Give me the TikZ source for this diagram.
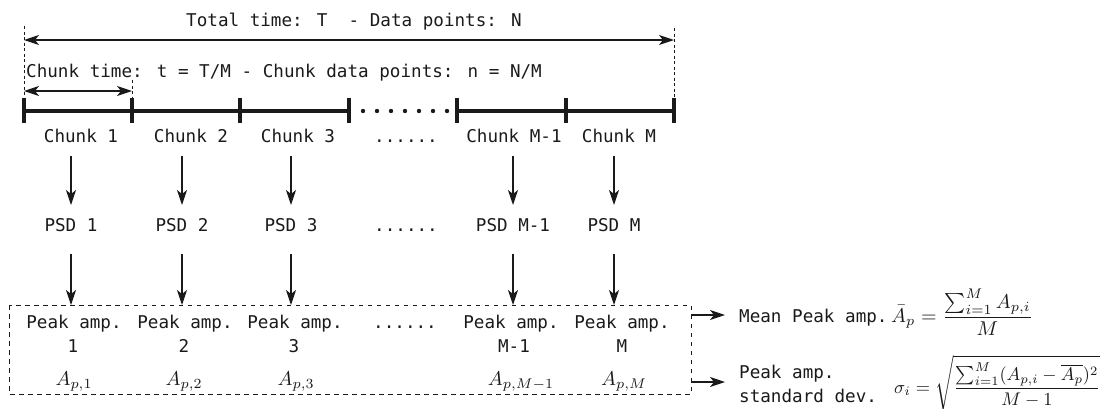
\documentclass[tikz,border=0pt]{standalone}
\usepackage{fontspec}
\newfontfamily\monof{DejaVu Sans Mono}
\usetikzlibrary{arrows.meta}
\definecolor{ink}{HTML}{1A1A1A}
\newcommand{\mymathscale}[1]{\scalebox{2.0}{#1}}
\newcommand{\mysigscale}[1]{\scalebox{1.83}{#1}}
\begin{document}
\begin{tikzpicture}[x=1pt,y=-1pt,
  lbl/.style={font=\monof\fontsize{17.6}{24}\selectfont, inner sep=0pt, anchor=base, text=ink},
  mth/.style={font=\fontsize{10}{12}\selectfont, inner sep=0pt, anchor=base, text=ink},
  tl/.style={draw=ink, line width=3.2pt},
  tickst/.style={draw=ink, line width=3.6pt},
  vdash/.style={draw=ink, line width=0.8pt, dash pattern=on 3pt off 2.5pt},
  arr/.style={draw=ink, line width=1.2pt, -{Stealth[length=15pt,width=10pt,inset=4pt]}},
  dbl/.style={draw=ink, line width=1.2pt, {Stealth[length=15pt,width=10pt,inset=4pt]}-{Stealth[length=15pt,width=10pt,inset=4pt]}},
  boxst/.style={draw=ink, line width=0.9pt, dash pattern=on 4.5pt off 4.5pt},
]
\useasboundingbox (0,0) rectangle (1106,408);

% timeline coordinates
\coordinate (t0) at (24,111);
\coordinate (t1) at (132,111);
\coordinate (t2) at (240,111);
\coordinate (t3) at (349,111);
\coordinate (t4) at (457,111);
\coordinate (t5) at (566,111);
\coordinate (t6) at (674,111);
\draw[tl] (t0) -- (t1) -- (t2) -- (t3);
\draw[tl] (t4) -- (t5) -- (t6);
\foreach \i in {0,...,6} {
  \draw[tickst] ([yshift=13pt]t\i) -- ([yshift=-12pt]t\i);
}
\foreach \x in {363,377,391,405,419,433,447} {
  \fill[ink] (\x,111) circle (2.2pt);
}

% dashed guides
\coordinate (L) at (24,26);
\coordinate (R) at (674,28);
\coordinate (S) at (132,80);
\draw[vdash] (L) -- ([yshift=13pt]t0);
\draw[vdash] (R) -- ([yshift=13pt]t6);
\draw[vdash] (S) -- ([yshift=13pt]t1);

% total and chunk arrows
\coordinate (ta) at (24,40);
\coordinate (tb) at (674,40);
\draw[dbl] (ta) -- (tb);
\coordinate (sa) at (24,91);
\coordinate (sb) at (132,91);
\draw[dbl] (sa) -- (sb);

\node[lbl] (tt) at (354,26) {Total time: T~~- Data points: N};
\node[lbl, anchor=base west] (ct) at (26,77) {Chunk time: t = T/M - Chunk data points: n = N/M};

% chunk labels
\node[lbl] (c1) at (81,142) {Chunk 1};
\node[lbl] (c2) at (191,142) {Chunk 2};
\node[lbl] (c3) at (298,142) {Chunk 3};
\node[lbl] (cd) at (406,142) {......};
\node[lbl] (c4) at (514,142) {Chunk M-1};
\node[lbl] (c5) at (619,142) {Chunk M};

% PSD labels
\node[lbl] (p1) at (71,231) {PSD 1};
\node[lbl] (p2) at (182,231) {PSD 2};
\node[lbl] (p3) at (291,231) {PSD 3};
\node[lbl] (pd) at (406,231) {......};
\node[lbl] (p4) at (513,231) {PSD M-1};
\node[lbl] (p5) at (614,231) {PSD M};

% box
\coordinate (bnw) at (9,305);
\coordinate (bse) at (691,394);
\draw[boxst] (bnw) rectangle (bse);

% arrows chunk -> PSD -> box
\foreach \c/\p in {c1/p1,c2/p2,c3/p3,c4/p4,c5/p5} {
  \draw[arr] ([yshift=-14pt]\p |- \c.base) -- ([yshift=26pt]\p.base);
  \draw[arr] ([yshift=-23pt]\p.base) -- (\p |- bnw);
}

% peak amplitude columns
\node[lbl] (a1) at (74,328) {Peak amp.};
\node[lbl] (a2) at (185,328) {Peak amp.};
\node[lbl] (a3) at (295,328) {Peak amp.};
\node[lbl] (ad) at (405,328) {......};
\node[lbl] (a4) at (511,328) {Peak amp.};
\node[lbl] (a5) at (622,328) {Peak amp.};
\node[lbl] (n1) at (73,352) {1};
\node[lbl] (n2) at (184,352) {2};
\node[lbl] (n3) at (294,352) {3};
\node[lbl] (n4) at (514,352) {M-1};
\node[lbl] (n5) at (622,352) {M};
\node[mth] (v1) at (74,385) {\mymathscale{$A_{p,1}$}};
\node[mth] (v2) at (184,385) {\mymathscale{$A_{p,2}$}};
\node[mth] (v3) at (296,385) {\mymathscale{$A_{p,3}$}};
\node[mth] (v4) at (521,385) {\mymathscale{$A_{p,M-1}$}};
\node[mth] (v5) at (624,385) {\mymathscale{$A_{p,M}$}};

% outputs
\coordinate (o1) at (725,315);
\coordinate (o2) at (725,382);
\draw[arr] (bse |- o1) -- (o1);
\draw[arr] (bse |- o2) -- (o2);
\node[lbl, anchor=base west] (mean) at (739,322) {Mean Peak amp.};
\node[mth, anchor=base west] (meanf) at (891,322) {\mymathscale{$\displaystyle \bar{A}_p = \frac{\sum_{i=1}^{M} A_{p,i}}{M}$}};
\node[lbl, anchor=base west] (sd1) at (739,378) {Peak amp.};
\node[lbl, anchor=base west] (sd2) at (739,402) {standard dev.};
\node[mth, anchor=base west] (sdf) at (894,393) {\mysigscale{$\displaystyle \sigma_i = \sqrt{\frac{\sum_{i=1}^{M} (A_{p,i}-\overline{A_p})^2}{M-1}}$}};
\end{tikzpicture}
\end{document}
